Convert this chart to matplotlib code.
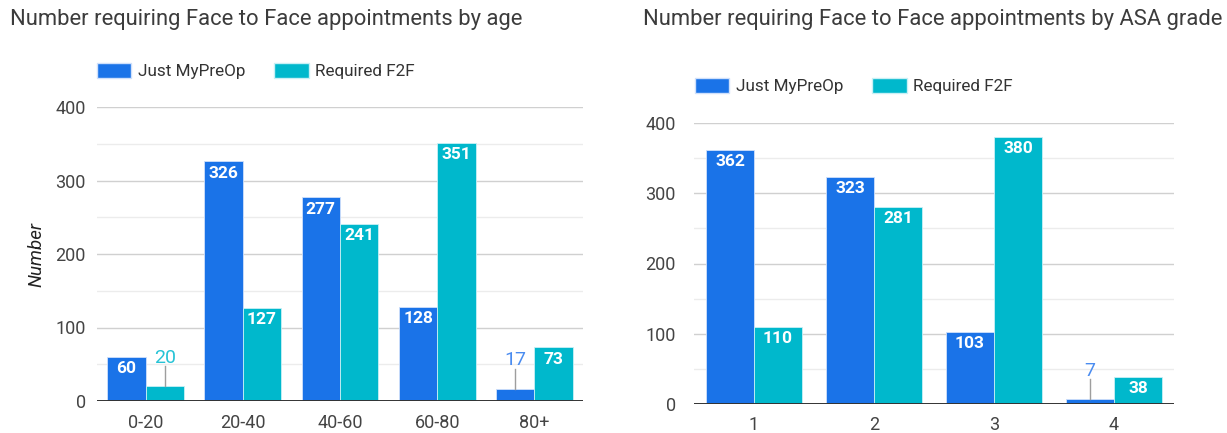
import matplotlib
matplotlib.use("Agg")
import matplotlib.pyplot as plt
from matplotlib.patches import Patch
import numpy as np

plt.rcParams['font.family'] = ['Roboto', 'DejaVu Sans']

age_categories = ["0-20", "20-40", "40-60", "60-80", "80+"]
age_just_mypreop = [60, 326, 277, 128, 17]
age_required_f2f = [20, 127, 241, 351, 73]

asa_categories = ["1", "2", "3", "4"]
asa_just_mypreop = [362, 323, 103, 7]
asa_required_f2f = [110, 281, 380, 38]

series_names = ["Just MyPreOp", "Required F2F"]
title_age = "Number requiring Face to Face appointments by age"
title_asa = "Number requiring Face to Face appointments by ASA grade"
y_ticks = [0, 100, 200, 300, 400]

BLUE = "#1a73e8"
TEAL = "#00b8cc"
BLUE_LBL = "#4a8cf0"
TEAL_LBL = "#26c3d6"
TXT = "#444444"

W, H = 1227, 433
fig = plt.figure(figsize=(W / 100, H / 100), dpi=100)


def draw(ax, cats, s1, s2, group_frac, px_per_unit):
    x = np.arange(len(cats))
    bw = group_frac / 2
    ax.set_xlim(-0.5, len(cats) - 0.5)
    ax.set_ylim(0, 400)
    for yy in np.arange(50, 400, 100):
        ax.axhline(yy, color="#ececec", lw=1, zorder=0)
    for yy in [100, 200, 300, 400]:
        ax.axhline(yy, color="#d0d0d0", lw=1, zorder=0)
    b1 = ax.bar(x - bw / 2, s1, bw, color=BLUE, edgecolor="#cfe0fb", lw=0.6, zorder=2)
    b2 = ax.bar(x + bw / 2, s2, bw, color=TEAL, edgecolor="#c8f0f5", lw=0.6, zorder=2)
    ax.axhline(0, color="#333333", lw=1.4, zorder=3)
    for bars, vals, lc in ((b1, s1, BLUE_LBL), (b2, s2, TEAL_LBL)):
        for rect, v in zip(bars, vals):
            cx = rect.get_x() + rect.get_width() / 2
            if v * px_per_unit < 24:
                ax.annotate(str(v), xy=(cx, v), xytext=(0, 14), textcoords="offset points",
                            ha="center", va="bottom", color=lc, fontsize=14, zorder=4)
                ax.plot([cx, cx], [v, v + 20 / px_per_unit], color="#9e9e9e", lw=1, zorder=3,
                        clip_on=False)
            else:
                ax.annotate(str(v), xy=(cx, v), xytext=(0, -3), textcoords="offset points",
                            ha="center", va="top", color="white", fontsize=12.5,
                            fontweight="bold", zorder=4)
    ax.set_xticks(x)
    ax.set_xticklabels(cats)
    ax.set_yticks(y_ticks)
    ax.tick_params(axis="both", length=0, labelsize=13, colors=TXT)
    ax.tick_params(axis="x", pad=9)
    for s in ax.spines.values():
        s.set_visible(False)


ax1 = fig.add_axes([97 / W, 1 - 401 / H, (583 - 97) / W, (401 - 107) / H])
draw(ax1, age_categories, age_just_mypreop, age_required_f2f, 0.79, (401 - 107) / 400)
ax1.set_ylabel("Number", fontstyle="italic", fontsize=13.5, color="#222222", labelpad=7)
ax1.tick_params(axis="y", pad=8)

ax2 = fig.add_axes([694 / W, 1 - 404 / H, (1174 - 694) / W, (404 - 123) / H])
draw(ax2, asa_categories, asa_just_mypreop, asa_required_f2f, 0.80, (404 - 123) / 400)
ax2.tick_params(axis="y", pad=13)

fig.text(10 / W, 1 - 20 / H, title_age, fontsize=15.8, color="#3c3c3c", va="center", ha="left")
fig.text(643 / W, 1 - 20 / H, title_asa, fontsize=15.8, color="#3c3c3c", va="center", ha="left")

handles = [Patch(facecolor=BLUE, edgecolor="#cfe0fb"), Patch(facecolor=TEAL, edgecolor="#c8f0f5")]
for xa, ya in ((97, 71), (695, 86)):
    fig.legend(handles, series_names, loc="center left", bbox_to_anchor=(xa / W, 1 - ya / H),
               ncol=2, frameon=False, fontsize=12.3, handlelength=2.0, handleheight=1.0,
               columnspacing=1.7, handletextpad=0.4, labelcolor="#333333",
               borderpad=0, borderaxespad=0)

fig.savefig("out.png", dpi=100, facecolor="white")
